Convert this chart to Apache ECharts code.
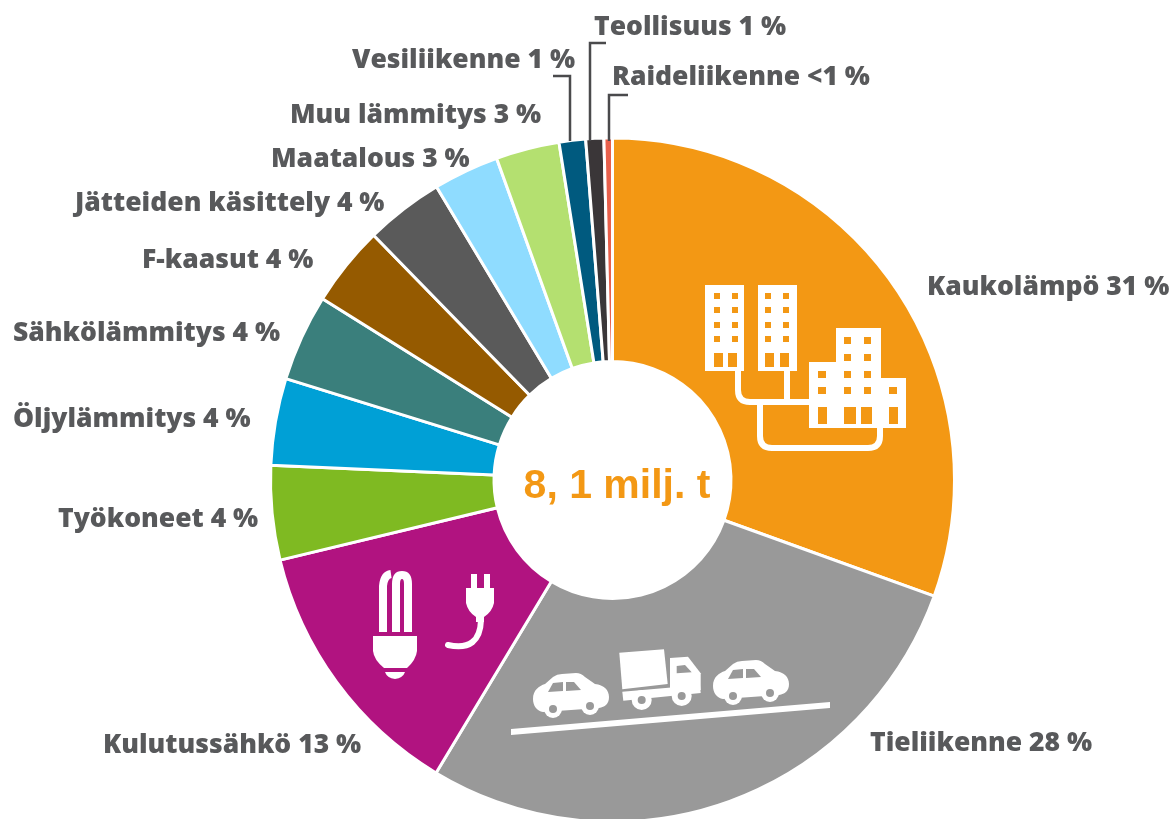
<!DOCTYPE html>
<html><head><meta charset="utf-8">
<style>html,body{margin:0;padding:0;background:#fff}#c{width:1171px;height:819px}</style>
<script src="https://cdn.jsdelivr.net/npm/echarts@6/dist/echarts.min.js"></script>
</head><body><div id="c"></div>
<script>
const categories = ['Kaukolämpö','Tieliikenne','Kulutussähkö','Työkoneet','Öljylämmitys','Sähkölämmitys','F-kaasut','Jätteiden käsittely','Maatalous','Muu lämmitys','Vesiliikenne','Teollisuus','Raideliikenne'];
const shares = [30.5,28.1,12.6,4.45,4.1,4.1,3.8,3.7,3.1,3.0,1.25,0.85,0.4];
const shareLabels = ['31 %','28 %','13 %','4 %','4 %','4 %','4 %','4 %','3 %','3 %','1 %','1 %','<1 %'];
const colors = ['#f39814','#999999','#b11380','#7fba22','#00a0d6','#3a7f7c','#955a00','#5a5a5a','#8fdcff','#b4e070','#005a7f','#3a3638','#e8604c'];
const labelSpots = [[927,287],[870,743],[103,745],[58,519],[13,419],[13,333],[142,260],[75,203],[271,159],[290,115],[352,60],[594,27],[612,77]];
const leaders = [[[553,76],[570,76],[570,141]],[[606,43],[590,43],[590,141]],[[628,95],[609,95],[609,141]]];

const W='#ffffff', O='#f39814', G='#999999';
const gfx=[];
let pathCount=0;
const rect=(x,y,w,h,fill)=>gfx.push({type:'rect',shape:{x,y,width:w,height:h},style:{fill},z:10});
const path=(d,style)=>{
  const name='iconPath'+(pathCount++);
  echarts.graphic.registerShape(name,echarts.graphic.extendPath(d,{}));
  gfx.push({type:name,style,z:10});
};
const circ=(cx,cy,r,fill)=>gfx.push({type:'circle',shape:{cx,cy,r},style:{fill},z:10});
const poly=(pts,fill)=>gfx.push({type:'polygon',shape:{points:pts},style:{fill},z:10});

// district heating icon
path('M738 370 L738 390 Q738 402 750 402 L812 402',{fill:'none',stroke:W,lineWidth:6});
path('M787 370 L787 402',{fill:'none',stroke:W,lineWidth:6});
path('M760 402 L760 436 Q760 448 772 448 L868 448 Q880 448 880 436 L880 426',{fill:'none',stroke:W,lineWidth:6});
rect(705,285,39,86,W); rect(758,285,39,86,W);
rect(836,328,45,40,W); rect(809,362,72,66,W); rect(880,378,26,50,W);
[714,732].forEach(x=>[293,307,322,336].forEach(y=>rect(x,y,6,6,O)));
[765,783].forEach(x=>[293,307,322,336].forEach(y=>rect(x,y,6,6,O)));
rect(714,353,9,14,O);rect(728,353,9,14,O);rect(765,353,9,14,O);rect(780,353,9,14,O);
[844,864].forEach(x=>[337,354,371,387].forEach(y=>rect(x,y,7,7,O)));
rect(818,371,8,7,O);rect(818,387,8,7,O);rect(889,387,8,7,O);
rect(818,407,9,17,O);rect(844,407,12,17,O);rect(861,407,11,17,O);rect(889,407,9,17,O);

// bulb and plug icon
path('M383 632 L383 586 Q384 575 391 574',{fill:'none',stroke:W,lineWidth:8});
path('M396 632 L396 584 Q396 575 402 575 Q408 575 408 584 L408 632',{fill:'none',stroke:W,lineWidth:8});
path('M373 636 L417 636 L417 651 Q416 660 407 668 L384 668 Q374 660 373 651 Z',{fill:W});
path('M385 672 L405 672 Q403 678 395 679 Q387 678 385 672 Z',{fill:W});
rect(471,574,6,16,W); rect(484,574,6,16,W);
path('M466 588 L494 588 L494 603 Q492 612 484 617 L484 622 L476 622 L476 617 Q468 612 466 603 Z',{fill:W});
path('M481 620 Q480 652 448 645',{fill:'none',stroke:W,lineWidth:6,lineCap:'round'});

// road icon
poly([[511,729],[830,702],[830,708],[511,735]],W);
function car(ox,oy){
  path(`M${ox} ${oy+25} C${ox} ${oy+16} ${ox+6} ${oy+12} ${ox+12} ${oy+10} L${ox+20} ${oy+3} Q${ox+24} ${oy} ${ox+29} ${oy} L${ox+43} ${oy-1} Q${ox+48} ${oy-1} ${ox+52} ${oy+3} L${ox+62} ${oy+10} C${ox+71} ${oy+11} ${ox+76} ${oy+16} ${ox+76} ${oy+23} C${ox+76} ${oy+30} ${ox+72} ${oy+33} ${ox+66} ${oy+34} L${ox+10} ${oy+38} C${ox+4} ${oy+37} ${ox} ${oy+32} ${ox} ${oy+25} Z`,{fill:W});
  poly([[ox+15,oy+18],[ox+20,oy+9],[ox+30,oy+8],[ox+30,oy+17]],G);
  poly([[ox+33,oy+17],[ox+33,oy+8],[ox+41,oy+8],[ox+48,oy+16]],G);
  circ(ox+20,oy+35,9,W); circ(ox+57,oy+32,9,W);
  circ(ox+20,oy+35,4,G); circ(ox+57,oy+32,4,G);
}
car(533,674); car(713,661);
poly([[619.3,652.7],[664,649.3],[667.7,684],[622.3,689.3]],W);
poly([[670,658],[688,656.7],[700.7,673.3],[700.7,690],[670,692]],W);
poly([[622.3,691.7],[700,685],[700.7,693],[623.3,700.7]],W);
poly([[676.7,666],[685,665],[691.7,672.3],[676.7,673.3]],G);
circ(641.7,700,10,W); circ(681.7,696,10,W); circ(641.7,700,4,G); circ(681.7,696,4,G);

// leaders
leaders.forEach(p=>gfx.push({type:'polyline',shape:{points:p},style:{fill:'none',stroke:'#4a4a4c',lineWidth:2.5},z:10}));

// centre total
gfx.push({type:'text',x:617,y:487,style:{text:'8, 1 milj. t',fill:'#f39814',font:'bold 41px "Liberation Sans"',align:'center',verticalAlign:'middle'},z:10});

const chart=echarts.init(document.getElementById('c'),null,{renderer:'canvas'});
chart.setOption({
  animation:false,
  backgroundColor:'#fff',
  graphic:{elements:gfx},
  series:[{
    type:'pie',
    center:[612.5,480],
    radius:[118.5,342],
    startAngle:90,
    clockwise:true,
    avoidLabelOverlap:false,
    data:categories.map((name,i)=>({name,value:shares[i],itemStyle:{color:colors[i]}})),
    itemStyle:{borderColor:'#fff',borderWidth:3},
    label:{show:true,formatter:p=>p.name+' '+shareLabels[p.dataIndex],color:'#58595b',fontFamily:'"Open Sans"',fontWeight:800,fontSize:26.5},
    labelLine:{show:false},
    labelLayout:p=>({x:labelSpots[p.dataIndex][0],y:labelSpots[p.dataIndex][1],align:'left',verticalAlign:'middle'})
  }]
});
</script></body></html>
